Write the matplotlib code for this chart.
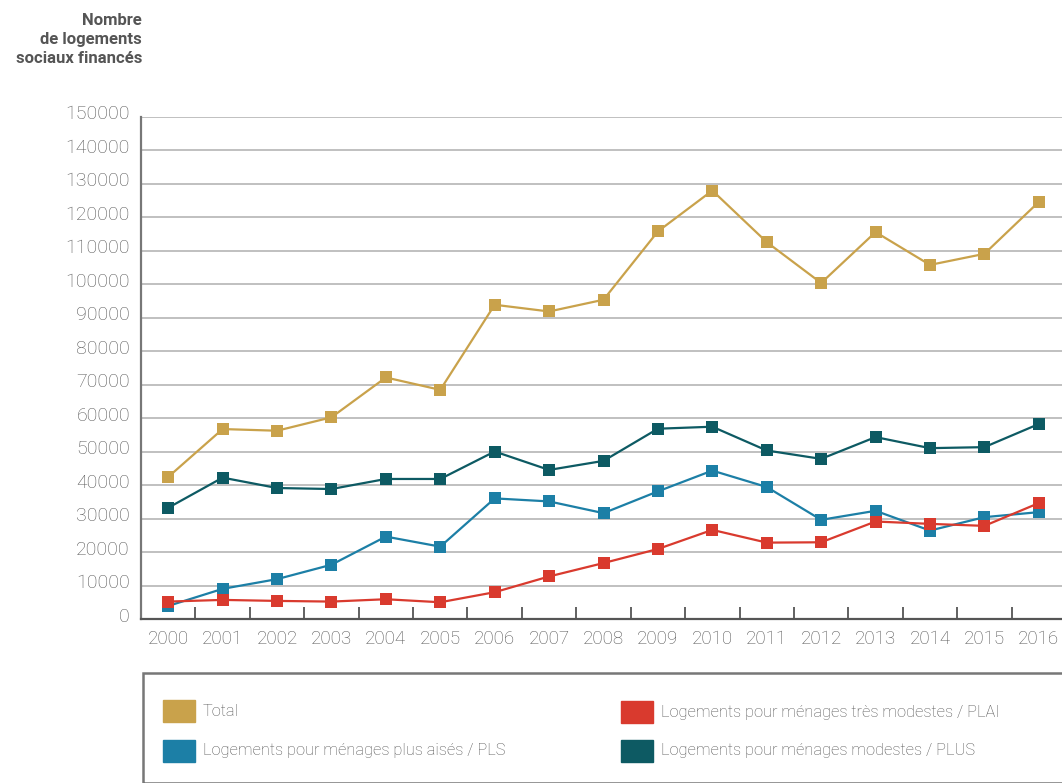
import matplotlib
matplotlib.use("Agg")
import matplotlib.pyplot as plt
from matplotlib.patches import Rectangle
from matplotlib.transforms import ScaledTranslation

# données
annees = [2000, 2001, 2002, 2003, 2004, 2005, 2006, 2007, 2008,
          2009, 2010, 2011, 2012, 2013, 2014, 2015, 2016]

total = [42400, 56700, 56200, 60200, 72100, 68400, 93800, 91800, 95300,
         115700, 127900, 112500, 100300, 115500, 105700, 109000, 124500]
plus = [33200, 42200, 39100, 38800, 41800, 41800, 50000, 44500, 47200,
        56800, 57400, 50300, 47800, 54300, 51000, 51300, 58200]
pls = [3900, 9000, 11900, 16200, 24600, 21600, 36000, 35100, 31600,
       38100, 44300, 39400, 29600, 32300, 26400, 30400, 31900]
plai = [5200, 5700, 5400, 5200, 5900, 5000, 8000, 12700, 16700,
        20900, 26600, 22800, 22900, 29100, 28400, 27800, 34600]

noms = ["Total",
        "Logements pour ménages très modestes / PLAI",
        "Logements pour ménages plus aisés / PLS",
        "Logements pour ménages modestes / PLUS"]
couleurs = ["#C9A24B", "#D93A2E", "#1C7FA6", "#0D5A63"]

yticks = list(range(0, 150001, 10000))

fig = plt.figure(figsize=(10.62, 7.83), dpi=100)
ax = fig.add_axes([141/1062, 1-619/783, (1066-141)/1062, (619-116.5)/783])

x = list(range(len(annees)))
series = [(total, couleurs[0]), (plus, couleurs[3]), (pls, couleurs[2]), (plai, couleurs[1])]
for vals, c in series:
    ax.plot(x, vals, color=c, lw=1.6, marker="s", markersize=9,
            markeredgewidth=0, clip_on=False, zorder=3)

ax.set_xlim(-0.5, len(annees) - 0.5)
ax.set_ylim(0, 150000)
ax.set_yticks(yticks)
ax.set_yticklabels([str(v) for v in yticks])
ax.set_xticks(x)
ax.set_xticklabels([str(a) for a in annees])
ax.set_xticks([i + 0.5 for i in x[:-1]], minor=True)

ax.grid(axis="y", color="#BBBBBB", lw=1.3, zorder=0)
for s in ["top", "right"]:
    ax.spines[s].set_visible(False)
ax.spines["left"].set_color("#777777")
ax.spines["left"].set_linewidth(1.6)
ax.spines["bottom"].set_color("#555555")
ax.spines["bottom"].set_linewidth(1.6)

ax.tick_params(axis="y", length=0, pad=8, labelsize=14, labelcolor="#555555")
ax.tick_params(axis="x", which="major", length=0, pad=8, labelsize=13.5, labelcolor="#555555")
ax.tick_params(axis="x", which="minor", direction="in", length=9, width=1.3, color="#555555")
for lab in ax.get_yticklabels():
    lab.set_fontfamily("Roboto")
    lab.set_fontweight("light")
    lab.set_transform(lab.get_transform() + ScaledTranslation(0, 3/72, fig.dpi_scale_trans))
for lab in ax.get_xticklabels():
    lab.set_fontfamily("Roboto")
    lab.set_fontweight("light")

fig.text(142/1062, 1-13/783, "Nombre\nde logements\nsociaux financés",
         ha="right", va="top", multialignment="right", fontsize=12,
         fontweight="bold", color="#555555", family="Roboto",
         linespacing=1.35)

# légende dessinée à la main
fig.patches.append(Rectangle((143/1062, 0), 1, 1-673/783, transform=fig.transFigure,
                             fill=False, edgecolor="#777777", lw=1.8))
pos = [(163, 711), (621, 712), (163, 751), (621, 751)]
for (px, py), nom, c in zip(pos, noms, couleurs):
    fig.patches.append(Rectangle((px/1062, 1-(py+11)/783), 32/1062, 22/783,
                                 transform=fig.transFigure, color=c))
    fig.text((px+40)/1062, 1-py/783, nom, ha="left", va="center", fontsize=11.8,
             color="#555555", family="Roboto", fontweight="light")

fig.savefig("out.png", dpi=100)
